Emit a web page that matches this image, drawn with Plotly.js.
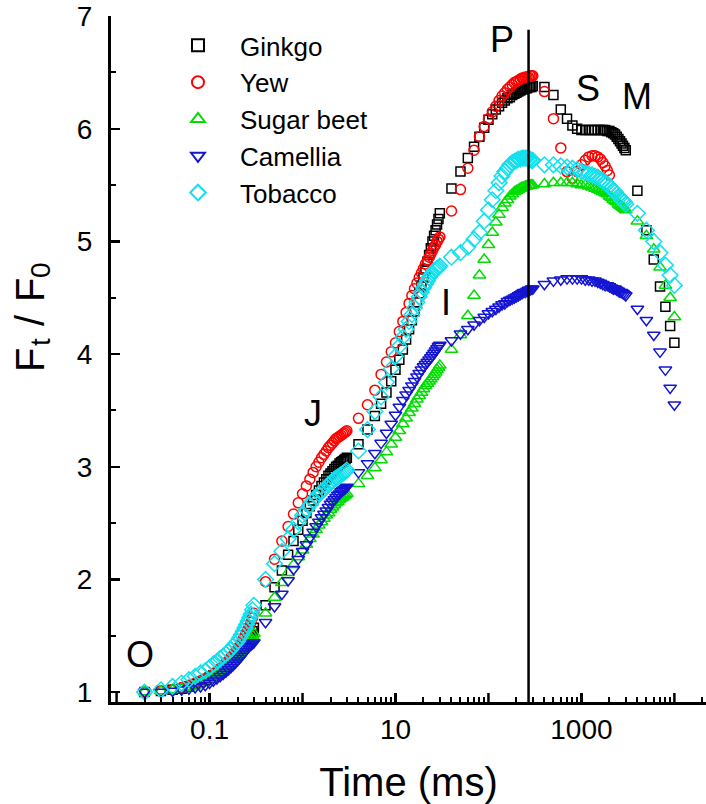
<!DOCTYPE html>
<html>
<head>
<meta charset="utf-8">
<script src="https://cdn.plot.ly/plotly-3.0.1.min.js"></script>
<style>html,body{margin:0;padding:0;background:#fff;}#chart{width:706px;height:804px;}</style>
</head>
<body>
<div id="chart"></div>
<script>
// Sampling times (ms)
const timeMs = [
  0.02,0.03,0.04,0.05,0.06,0.07,0.08,0.09,0.1,0.11,0.12,0.13,0.14,0.15,0.16,0.17,0.18,0.19,0.2,0.21,0.22,0.23,0.24,0.25,0.26,0.27,0.28,0.29,0.3,
  0.4,0.5,0.6,0.7,0.8,0.9,1,1.1,1.2,1.3,1.4,1.5,1.6,1.7,1.8,1.9,2,2.1,2.2,2.3,2.4,2.5,2.6,2.7,2.8,2.9,3,
  4,5,6,7,8,9,10,11,12,13,14,15,16,17,18,19,20,21,22,23,24,25,26,27,28,29,30,
  40,50,60,70,80,90,100,110,120,130,140,150,160,170,180,190,200,210,220,230,240,250,260,270,280,290,300,
  400,500,600,700,800,900,1000,1100,1200,1300,1400,1500,1600,1700,1800,1900,2000,2100,2200,2300,2400,2500,2600,2700,2800,2900,3000,
  4000,5000,6000,7000,8000,9000,10000
];

const ginkgo = [
  1.00,1.01,1.02,1.03,1.05,1.07,1.09,1.11,1.13,1.15,1.17,1.19,1.21,1.23,1.25,1.27,1.29,1.31,1.33,1.35,1.37,1.39,1.41,1.43,1.45,1.48,1.51,1.54,1.57,
  1.77,1.93,2.08,2.22,2.34,2.44,2.52,2.59,2.65,2.70,2.75,2.79,2.83,2.86,2.89,2.92,2.94,2.96,2.98,3.00,3.01,3.03,3.04,3.05,3.06,3.07,3.08,
  3.20,3.33,3.45,3.56,3.66,3.76,3.86,3.95,4.04,4.13,4.22,4.30,4.38,4.46,4.54,4.61,4.68,4.75,4.82,4.88,4.94,5.00,5.05,5.10,5.15,5.20,5.25,
  5.47,5.62,5.74,5.84,5.93,6.01,6.08,6.13,6.17,6.20,6.23,6.25,6.27,6.28,6.30,6.31,6.32,6.33,6.34,6.35,6.35,6.36,6.36,6.37,6.37,6.37,6.38,
  6.37,6.30,6.17,6.09,6.03,6.00,5.99,5.99,5.99,5.99,5.99,5.99,5.99,5.99,5.99,5.98,5.98,5.97,5.96,5.95,5.93,5.91,5.89,5.87,5.85,5.83,5.81,
  5.45,5.10,4.84,4.60,4.42,4.25,4.10
];

const yew = [
  1.00,1.01,1.02,1.04,1.06,1.08,1.10,1.12,1.14,1.16,1.18,1.21,1.23,1.26,1.28,1.31,1.33,1.36,1.38,1.41,1.44,1.47,1.50,1.53,1.56,1.59,1.62,1.66,1.70,
  1.98,2.18,2.34,2.47,2.58,2.68,2.76,2.83,2.89,2.95,3.00,3.04,3.08,3.11,3.14,3.17,3.19,3.21,3.23,3.25,3.26,3.27,3.28,3.29,3.30,3.31,3.32,
  3.43,3.55,3.68,3.82,3.93,4.02,4.10,4.20,4.29,4.37,4.45,4.52,4.58,4.63,4.68,4.72,4.76,4.80,4.83,4.86,4.89,4.92,4.95,4.97,5.00,5.02,5.04,
  5.27,5.46,5.65,5.81,5.93,6.02,6.09,6.15,6.20,6.25,6.29,6.32,6.35,6.37,6.39,6.41,6.42,6.43,6.44,6.45,6.45,6.46,6.46,6.46,6.47,6.47,6.47,
  6.33,6.09,5.83,5.62,5.56,5.62,5.68,5.72,5.75,5.76,5.76,5.75,5.73,5.70,5.67,5.63,5.59
];

const sugarBeet = [
  1.00,1.01,1.02,1.03,1.04,1.06,1.08,1.10,1.12,1.14,1.16,1.18,1.20,1.22,1.24,1.26,1.28,1.30,1.32,1.34,1.36,1.38,1.40,1.42,1.44,1.46,1.48,1.50,1.52,
  1.70,1.84,1.97,2.06,2.13,2.20,2.26,2.31,2.36,2.40,2.44,2.48,2.51,2.54,2.57,2.59,2.62,2.64,2.66,2.68,2.69,2.71,2.72,2.73,2.74,2.75,2.76,
  2.85,2.92,2.99,3.06,3.13,3.20,3.26,3.32,3.38,3.43,3.48,3.52,3.56,3.60,3.63,3.66,3.69,3.72,3.74,3.76,3.78,3.80,3.82,3.84,3.86,3.88,3.90,
  4.04,4.17,4.34,4.52,4.70,4.84,4.97,5.08,5.17,5.24,5.30,5.34,5.37,5.40,5.42,5.44,5.45,5.46,5.47,5.48,5.48,5.49,5.49,5.50,5.50,5.50,5.50,
  5.51,5.52,5.52,5.52,5.52,5.51,5.50,5.50,5.49,5.48,5.47,5.46,5.45,5.44,5.43,5.42,5.40,5.39,5.37,5.36,5.35,5.33,5.32,5.31,5.30,5.29,5.28,
  5.18,5.05,4.93,4.77,4.61,4.50,4.33
];

const camellia = [
  1.00,1.00,1.01,1.02,1.03,1.04,1.05,1.06,1.08,1.10,1.12,1.14,1.16,1.18,1.20,1.22,1.24,1.26,1.28,1.30,1.32,1.34,1.36,1.38,1.40,1.41,1.42,1.43,1.44,
  1.62,1.76,1.87,1.99,2.09,2.18,2.25,2.31,2.37,2.42,2.47,2.51,2.55,2.58,2.61,2.64,2.67,2.69,2.71,2.73,2.75,2.76,2.78,2.79,2.80,2.81,2.82,
  2.95,3.03,3.12,3.21,3.30,3.38,3.46,3.53,3.59,3.64,3.68,3.72,3.76,3.80,3.83,3.86,3.89,3.91,3.93,3.95,3.97,3.99,4.01,4.03,4.05,4.07,4.08,
  4.12,4.18,4.22,4.26,4.30,4.33,4.36,4.38,4.40,4.42,4.44,4.45,4.47,4.48,4.49,4.50,4.51,4.52,4.53,4.54,4.55,4.55,4.56,4.57,4.57,4.58,4.58,
  4.62,4.65,4.66,4.67,4.67,4.67,4.67,4.66,4.66,4.65,4.65,4.64,4.63,4.62,4.61,4.61,4.60,4.59,4.58,4.58,4.57,4.56,4.55,4.55,4.54,4.53,4.52,
  4.40,4.30,4.17,4.02,3.86,3.70,3.55
];

const tobacco = [
  1.00,1.02,1.05,1.08,1.11,1.14,1.17,1.19,1.22,1.25,1.27,1.30,1.32,1.34,1.36,1.38,1.41,1.43,1.45,1.48,1.51,1.54,1.57,1.60,1.63,1.66,1.69,1.73,1.77,
  2.00,2.14,2.25,2.36,2.44,2.51,2.57,2.62,2.66,2.70,2.73,2.76,2.78,2.80,2.82,2.84,2.86,2.87,2.89,2.90,2.91,2.92,2.93,2.94,2.95,2.96,2.97,
  3.14,3.33,3.49,3.62,3.75,3.87,3.98,4.07,4.15,4.22,4.29,4.35,4.41,4.46,4.51,4.55,4.59,4.62,4.65,4.68,4.70,4.72,4.74,4.75,4.76,4.77,4.78,
  4.86,4.90,4.95,5.02,5.08,5.18,5.28,5.37,5.45,5.52,5.58,5.62,5.65,5.68,5.70,5.71,5.72,5.73,5.73,5.74,5.74,5.74,5.74,5.73,5.73,5.72,5.72,
  5.68,5.68,5.67,5.66,5.65,5.64,5.62,5.61,5.60,5.59,5.58,5.57,5.55,5.54,5.52,5.51,5.49,5.47,5.45,5.44,5.42,5.40,5.39,5.37,5.36,5.35,5.33,
  5.25,5.10,5.00,4.90,4.79,4.70,4.61
];

const seriesNames = ['Ginkgo','Yew','Sugar beet','Camellia','Tobacco'];
const seriesData = [ginkgo, yew, sugarBeet, camellia, tobacco];
const seriesSymbols = ['square-open','circle-open','triangle-up-open','triangle-down-open','diamond-open'];
const seriesColors = ['#000000','#ff0000','#00dd00','#1414d2','#10e0ee'];
const seriesSizes = [9,10,11,11,12];

// Peak (P) marker line
const peakLineX = [270, 270];
const peakLineY = [0.912, 6.88];

// Axis ticks
const X_RANGE = [-2.06, 4.34];
const Y_RANGE = [0.912, 7.001];
const xLabelVals = [0.1, 10, 1000];
const xLabelText = ['0.1', '10', '1000'];
const xUnlabeledDecades = [0.01, 1, 100, 10000];
const xMinorVals = [];
[0.01,0.1,1,10,100,1000,10000].forEach(d => { for (let k = 2; k <= 9; k++) xMinorVals.push(d*k); });
const yTickVals = [1,2,3,4,5,6,7];

// Phase labels (paper coordinates)
const phaseLabels = ['O','J','I','P','S','M'];
const phasePosX = [0.049,0.340,0.563,0.657,0.802,0.884];
const phasePosY = [0.069,0.421,0.582,0.966,0.895,0.882];

// Y-axis title pieces: text, font size, x (px from left of page), y (px from top)
const yTitleParts = ['F', 't', '/', 'F', '0'];
const yTitleSizes = [40, 28, 40, 40, 28];
const yTitlePx = [30, 40, 30, 30, 40];
const yTitlePy = [360, 342, 320, 290, 270];

const FONT = 'Liberation Sans, Arial, Helvetica, sans-serif';
const PLOT_L = 111, PLOT_W = 595, PLOT_T = 16, PLOT_H = 686;

const traces = seriesNames.map((name, i) => ({
  type: 'scatter',
  mode: 'markers',
  name: name,
  x: timeMs.slice(0, seriesData[i].length),
  y: seriesData[i],
  marker: {
    symbol: seriesSymbols[i],
    size: seriesSizes[i],
    color: seriesColors[i],
    line: {color: seriesColors[i], width: 1.5}
  },
  cliponaxis: false
}));

traces.push({
  type: 'scatter',
  mode: 'lines',
  x: peakLineX,
  y: peakLineY,
  line: {color: '#000', width: 2.5},
  showlegend: false,
  hoverinfo: 'skip'
});

const annotations = phaseLabels.map((t, i) => ({
  text: t, xref: 'paper', yref: 'paper', x: phasePosX[i], y: phasePosY[i],
  xanchor: 'center', yanchor: 'middle', showarrow: false,
  font: {family: FONT, size: 36, color: '#000'}
}));
yTitleParts.forEach((t, i) => {
  annotations.push({
    text: t, xref: 'paper', yref: 'paper',
    x: (yTitlePx[i] - PLOT_L) / PLOT_W,
    y: (PLOT_T + PLOT_H - yTitlePy[i]) / PLOT_H,
    xanchor: 'center', yanchor: 'middle', textangle: -90, showarrow: false,
    font: {family: FONT, size: yTitleSizes[i], color: '#000'}
  });
});

// Unlabelled decade ticks (same length as the labelled major ticks)
const MAJOR_TICK_PAPER = 9 / PLOT_H;
const decadeTickShapes = xUnlabeledDecades.map(v => ({
  type: 'line', xref: 'x', yref: 'paper', x0: v, x1: v, y0: 0, y1: MAJOR_TICK_PAPER,
  line: {color: '#000', width: 2.5}, layer: 'above'
}));

const layout = {
  width: 706, height: 804,
  margin: {l: PLOT_L, r: 706 - PLOT_L - PLOT_W, t: PLOT_T, b: 804 - PLOT_T - PLOT_H, pad: 0},
  paper_bgcolor: '#fff', plot_bgcolor: '#fff',
  font: {family: FONT, color: '#000'},
  showlegend: true,
  legend: {
    x: 0.0756, y: 0.9913, xanchor: 'left', yanchor: 'top',
    font: {family: FONT, size: 26, color: '#000'},
    itemwidth: 74, bgcolor: 'rgba(0,0,0,0)', borderwidth: 0,
    itemsizing: 'constant'
  },
  xaxis: {
    type: 'log', range: X_RANGE,
    showline: true, linewidth: 3, linecolor: '#000', mirror: false,
    showgrid: false, zeroline: false,
    ticks: 'inside', ticklen: 9, tickwidth: 2.5, tickcolor: '#000',
    tickmode: 'array', tickvals: xLabelVals, ticktext: xLabelText,
    tickfont: {family: FONT, size: 28, color: '#000'},
    minor: {ticks: 'inside', ticklen: 5, tickwidth: 2, tickcolor: '#000', tickmode: 'array', tickvals: xMinorVals, showgrid: false},
    title: {text: 'Time (ms)', font: {family: FONT, size: 40, color: '#000'}, standoff: 26},
    automargin: false
  },
  yaxis: {
    range: Y_RANGE,
    showline: true, linewidth: 3, linecolor: '#000', mirror: false,
    showgrid: false, zeroline: false,
    ticks: 'inside', ticklen: 9, tickwidth: 2.5, tickcolor: '#000',
    tickmode: 'array', tickvals: yTickVals,
    tickfont: {family: FONT, size: 28, color: '#000'},
    ticklabelstandoff: 10, ticklabeloverflow: 'allow',
    minor: {ticks: 'inside', ticklen: 5, tickwidth: 2, tickcolor: '#000', dtick: 0.5, tick0: 0, showgrid: false},
    automargin: false
  },
  shapes: decadeTickShapes,
  annotations: annotations
};

Plotly.newPlot('chart', traces, layout, {displayModeBar: false, staticPlot: true});
</script>
</body>
</html>
